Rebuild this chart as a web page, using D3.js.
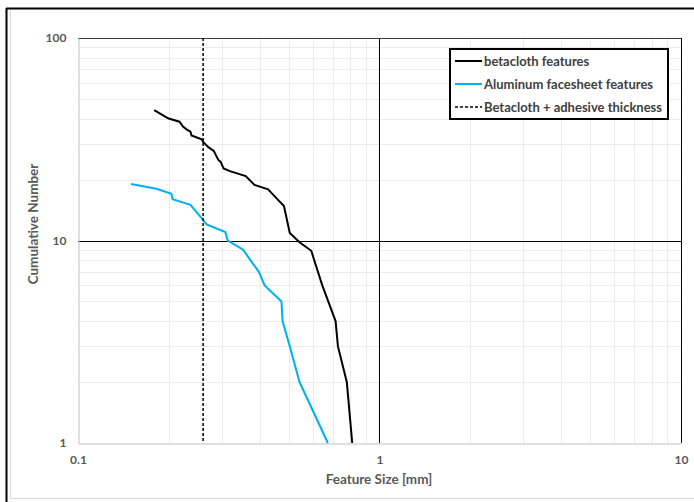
<!DOCTYPE html>
<html>
<head>
<meta charset="utf-8">
<script src="https://cdn.jsdelivr.net/npm/d3@7"></script>
<style>
  body { margin: 0; background: #fff; }
  svg { display: block; font-family: Lato, 'Open Sans', sans-serif; font-weight: bold; }
</style>
</head>
<body>
<div id="container"></div>
<script>
const w = 694
const h = 502

// data
const betaclothSize = [0.179, 0.194, 0.200, 0.217, 0.223, 0.229, 0.236, 0.238, 0.257, 0.260, 0.270, 0.282, 0.292, 0.297, 0.304, 0.319, 0.360, 0.385, 0.427, 0.455, 0.482, 0.504, 0.543, 0.594, 0.609, 0.646, 0.715, 0.728, 0.779, 0.812]
const betaclothCount = [44, 41, 40, 38.6, 36.5, 35.4, 34.5, 33, 31.6, 30.7, 29, 27.7, 25, 24.5, 22.7, 22, 20.8, 18.8, 17.9, 16.2, 14.8, 10.9, 9.8, 8.9, 7.9, 6, 4, 3, 2, 1]
const aluminumSize = [0.150, 0.182, 0.204, 0.206, 0.236, 0.259, 0.267, 0.308, 0.314, 0.353, 0.373, 0.398, 0.416, 0.473, 0.477, 0.504, 0.543, 0.674]
const aluminumCount = [19, 18, 17, 16, 15, 12.7, 12, 11, 10, 9, 8, 7, 6, 5, 4, 3, 2, 1]
const adhesiveThickness = 0.26
const xTicks = [0.1, 1, 10]
const yTicks = [1, 10, 100]
const seriesNames = ['betacloth features', 'Aluminum facesheet features', 'Betacloth + adhesive thickness']

const svg = d3.select('#container')
              .append('svg')
              .attr('width', w)
              .attr('height', h)

// chart frame
svg.append('line').attr('x1', 10.5).attr('x2', 10.5).attr('y1', 9).attr('y2', 499)
   .attr('stroke', '#d9d9d9')
svg.append('line').attr('x1', 10).attr('x2', w).attr('y1', 498.5).attr('y2', 498.5)
   .attr('stroke', '#d9d9d9')
svg.append('line').attr('x1', 6).attr('x2', w).attr('y1', 8.5).attr('y2', 8.5)
   .attr('stroke', '#000').attr('stroke-width', 2)
svg.append('line').attr('x1', 6.5).attr('x2', 6.5).attr('y1', 8).attr('y2', h)
   .attr('stroke', '#000').attr('stroke-width', 2)

// scales
const xScale = d3.scaleLog().domain([0.1, 10]).range([78, 681])
const yScale = d3.scaleLog().domain([1, 100]).range([443, 38])

// minor gridlines
const xMinor = xScale.ticks().filter(d => !xTicks.some(t => Math.abs(t - d) < 1e-9))
const yMinor = yScale.ticks().filter(d => !yTicks.some(t => Math.abs(t - d) < 1e-9))

svg.append('g').selectAll('line')
   .data(xMinor).enter().append('line')
   .attr('x1', d => Math.round(xScale(d)) + 0.5).attr('x2', d => Math.round(xScale(d)) + 0.5)
   .attr('y1', yScale(100)).attr('y2', yScale(1))
   .attr('stroke', '#ebebeb')
svg.append('g').selectAll('line')
   .data(yMinor).enter().append('line')
   .attr('y1', d => Math.round(yScale(d)) + 0.5).attr('y2', d => Math.round(yScale(d)) + 0.5)
   .attr('x1', xScale(0.1)).attr('x2', xScale(10))
   .attr('stroke', '#ebebeb')

// major gridlines
svg.append('g').selectAll('line')
   .data(xTicks.slice(1)).enter().append('line')
   .attr('x1', d => Math.round(xScale(d)) + 0.5).attr('x2', d => Math.round(xScale(d)) + 0.5)
   .attr('y1', yScale(100)).attr('y2', yScale(1))
   .attr('stroke', '#000')
svg.append('g').selectAll('line')
   .data(yTicks.slice(1)).enter().append('line')
   .attr('y1', d => Math.round(yScale(d)) + 0.5).attr('y2', d => Math.round(yScale(d)) + 0.5)
   .attr('x1', xScale(0.1)).attr('x2', xScale(10))
   .attr('stroke', d => d === 100 ? '#404040' : '#000')

// axes
const xAxis = d3.axisBottom(xScale).tickValues(xTicks).tickFormat(d3.format('')).tickSize(0).tickPadding(12)
const yAxis = d3.axisLeft(yScale).tickValues(yTicks).tickFormat(d3.format('')).tickSize(0).tickPadding(12)

const gx = svg.append('g')
   .attr('transform', 'translate(0, ' + (yScale(1) + 0.5) + ')')
   .call(xAxis)
const gy = svg.append('g')
   .attr('transform', 'translate(' + (xScale(0.1) + 0.5) + ', 0)')
   .call(yAxis)
svg.selectAll('.domain').attr('stroke', '#bfbfbf')
svg.selectAll('.tick text')
   .attr('fill', '#595959')
   .style('font-family', 'Lato, sans-serif')
   .style('font-weight', 'bold')
   .style('font-size', '12px')

// axis titles
svg.append('text')
   .attr('x', 379).attr('y', 484)
   .attr('text-anchor', 'middle')
   .attr('fill', '#595959')
   .style('font-size', '13.5px')
   .text('Feature Size [mm]')
svg.append('text')
   .attr('transform', 'translate(38, 224) rotate(-90)')
   .attr('text-anchor', 'middle')
   .attr('fill', '#595959')
   .style('font-size', '13.5px')
   .text('Cumulative Number')

// series
const line = d3.line().x(d => xScale(d[0])).y(d => yScale(d[1]))

svg.append('path')
   .datum(aluminumSize.map((d, i) => [d, aluminumCount[i]]))
   .attr('d', line)
   .attr('fill', 'none')
   .attr('stroke', '#00b0f0')
   .attr('stroke-width', 2)

svg.append('path')
   .datum(betaclothSize.map((d, i) => [d, betaclothCount[i]]))
   .attr('d', line)
   .attr('fill', 'none')
   .attr('stroke', '#000')
   .attr('stroke-width', 2)

svg.append('line')
   .attr('x1', xScale(adhesiveThickness)).attr('x2', xScale(adhesiveThickness))
   .attr('y1', yScale(100)).attr('y2', yScale(1))
   .attr('stroke', '#000')
   .attr('stroke-width', 1.5)
   .attr('stroke-dasharray', '3,2')

// legend
const legend = svg.append('g')
legend.append('rect')
   .attr('x', 450).attr('y', 49).attr('width', 218).attr('height', 70)
   .attr('fill', '#fff').attr('stroke', '#000').attr('stroke-width', 2)

const legendStyles = [
  { color: '#000', dash: null },
  { color: '#00b0f0', dash: null },
  { color: '#000', dash: '3,2' }
]
const rows = legend.selectAll('g.row')
   .data(seriesNames).enter().append('g')
   .attr('transform', (d, i) => 'translate(0, ' + (61 + i * 23) + ')')
rows.append('line')
   .attr('x1', 455).attr('x2', 482).attr('y1', 0).attr('y2', 0)
   .attr('stroke', (d, i) => legendStyles[i].color)
   .attr('stroke-width', (d, i) => i === 2 ? 1.5 : 2)
   .attr('stroke-dasharray', (d, i) => legendStyles[i].dash)
rows.append('text')
   .attr('x', 484).attr('y', 4.5)
   .attr('fill', '#404040')
   .style('font-size', '13px')
   .text(d => d)
</script>
</body>
</html>
